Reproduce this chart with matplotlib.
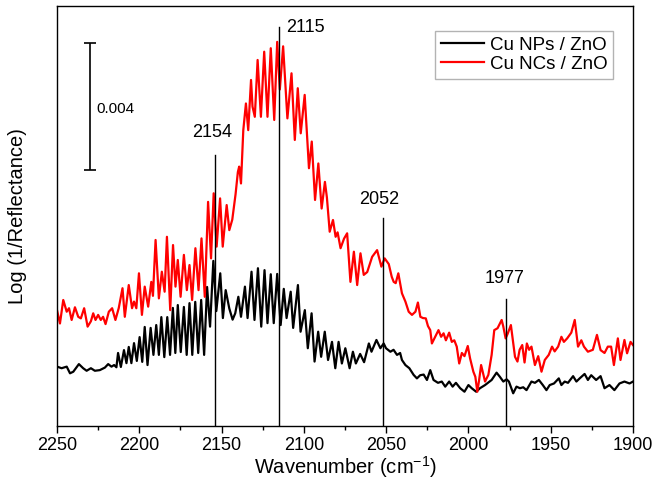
import matplotlib
matplotlib.use("Agg")
import matplotlib.pyplot as plt
from matplotlib.ticker import MultipleLocator

plt.rcParams['font.family'] = ['Liberation Sans', 'DejaVu Sans']
plt.rcParams['mathtext.default'] = 'regular'

# absorbance in units of 1e-3 (scale bar = 0.004), arbitrary offset
wn_np = [2250.0, 2247.2, 2244.1, 2242.1, 2240.1, 2236.7, 2234.1, 2232.0, 2229.4, 2227.0,
         2224.0, 2220.9, 2218.9, 2216.9, 2215.3, 2213.9, 2212.9, 2211.2, 2209.3, 2207.8,
         2206.4, 2204.8, 2203.2, 2201.5, 2199.8, 2198.2, 2196.7, 2195.0, 2193.1, 2191.4,
         2189.7, 2188.1, 2186.6, 2184.8, 2183.0, 2181.3, 2179.6, 2178.1, 2176.6, 2174.8,
         2172.9, 2171.2, 2169.5, 2167.8, 2166.0, 2164.2, 2162.4, 2160.6, 2158.8, 2157.0,
         2155.0, 2153.2, 2150.8, 2149.2, 2147.5, 2145.3, 2143.3, 2141.7, 2139.8, 2138.2,
         2135.8, 2134.2, 2131.8, 2130.0, 2127.9, 2125.9, 2123.9, 2122.1, 2120.1, 2118.3,
         2116.2, 2114.1, 2112.2, 2110.5, 2108.0, 2106.5, 2103.6, 2102.0, 2099.4, 2097.6,
         2095.3, 2093.5, 2091.3, 2089.5, 2087.3, 2085.3, 2082.9, 2080.9, 2078.9, 2076.9,
         2074.8, 2072.2, 2070.2, 2068.4, 2065.8, 2063.4, 2060.5, 2058.9, 2055.9, 2053.5,
         2051.5, 2050.1, 2047.4, 2045.5, 2043.4, 2041.5, 2040.4, 2038.3, 2035.9, 2033.3,
         2031.3, 2029.3, 2027.2, 2025.2, 2023.2, 2021.2, 2018.5, 2016.2, 2014.1, 2011.7,
         2009.6, 2007.6, 2005.0, 2002.4, 2000.0, 1998.0, 1995.3, 1993.0, 1989.9, 1985.9,
         1982.9, 1980.9, 1978.8, 1976.8, 1975.4, 1972.8, 1970.8, 1968.7, 1966.7, 1964.7,
         1961.7, 1959.6, 1957.2, 1954.8, 1952.6, 1950.6, 1948.0, 1945.1, 1943.5, 1941.5,
         1939.5, 1936.4, 1934.4, 1932.4, 1929.4, 1927.4, 1925.4, 1922.4, 1919.7, 1917.3,
         1914.3, 1911.3, 1908.2, 1905.2, 1902.1, 1900.0]
abs_np = [1.87, 1.82, 1.87, 1.66, 1.71, 1.95, 1.82, 1.74, 1.82, 1.74,
          1.76, 1.84, 1.95, 1.87, 1.92, 1.85, 2.30, 1.86, 2.39, 1.98,
          2.49, 1.98, 2.61, 2.05, 2.80, 2.02, 3.12, 1.92, 3.09, 2.24,
          3.18, 2.24, 3.43, 2.17, 3.43, 2.24, 3.72, 2.30, 3.81, 2.33,
          3.75, 2.24, 3.87, 2.24, 3.91, 2.30, 3.97, 2.24, 4.38, 3.13,
          5.20, 3.62, 4.81, 3.40, 4.28, 3.70, 3.35, 3.55, 4.07, 3.44,
          4.39, 3.40, 4.86, 3.34, 4.97, 3.13, 4.91, 3.24, 4.78, 3.24,
          4.79, 3.18, 4.32, 3.40, 4.23, 3.09, 4.44, 2.97, 3.65, 2.45,
          3.55, 2.03, 2.97, 2.18, 2.97, 2.08, 2.65, 1.82, 2.65, 1.97,
          2.45, 1.82, 2.34, 1.97, 2.27, 2.01, 2.60, 2.34, 2.71, 2.45,
          2.60, 2.45, 2.34, 2.40, 2.24, 2.30, 2.08, 1.92, 1.82, 1.61,
          1.50, 1.60, 1.62, 1.45, 1.76, 1.45, 1.36, 1.40, 1.24, 1.40,
          1.24, 1.36, 1.19, 1.08, 1.29, 1.19, 1.08, 1.19, 1.29, 1.45,
          1.68, 1.55, 1.40, 1.47, 1.40, 1.03, 1.24, 1.19, 1.22, 1.13,
          1.40, 1.36, 1.45, 1.29, 1.13, 1.29, 1.34, 1.50, 1.29, 1.40,
          1.36, 1.57, 1.40, 1.50, 1.64, 1.45, 1.60, 1.45, 1.57, 1.19,
          1.29, 1.13, 1.34, 1.40, 1.34, 1.40]

wn_nc = [2250.0, 2248.2, 2246.2, 2244.1, 2242.7, 2241.1, 2239.1, 2237.1, 2235.5, 2233.5,
         2231.4, 2229.4, 2228.0, 2226.6, 2225.0, 2223.4, 2222.0, 2220.5, 2218.5, 2216.5,
         2214.5, 2212.5, 2210.2, 2208.8, 2206.4, 2204.4, 2203.2, 2201.8, 2200.2, 2198.4,
         2196.7, 2194.6, 2192.7, 2191.7, 2190.1, 2188.1, 2186.3, 2184.6, 2183.2, 2181.2,
         2179.5, 2178.0, 2176.6, 2174.9, 2172.9, 2171.1, 2169.5, 2167.9, 2165.9, 2164.0,
         2162.2, 2160.2, 2158.2, 2156.4, 2154.8, 2153.0, 2150.9, 2149.3, 2146.9, 2145.3,
         2143.5, 2141.5, 2140.1, 2139.3, 2138.2, 2136.8, 2135.2, 2133.8, 2132.1, 2131.2,
         2129.8, 2128.1, 2126.1, 2124.1, 2122.1, 2120.1, 2118.0, 2116.2, 2114.6, 2112.6,
         2110.0, 2107.5, 2105.5, 2103.7, 2101.9, 2099.5, 2096.9, 2095.2, 2093.2, 2091.2,
         2089.2, 2087.2, 2086.0, 2084.3, 2082.3, 2080.7, 2079.5, 2077.7, 2075.6, 2073.7,
         2071.7, 2069.6, 2067.6, 2065.6, 2063.6, 2061.5, 2058.5, 2055.5, 2052.9, 2050.9,
         2048.4, 2046.6, 2045.4, 2044.2, 2042.6, 2040.4, 2038.3, 2036.3, 2034.3, 2032.2,
         2030.7, 2029.2, 2027.6, 2025.9, 2024.6, 2023.2, 2022.2, 2020.2, 2018.2, 2016.6,
         2015.1, 2013.7, 2011.7, 2010.1, 2008.6, 2007.1, 2005.6, 2004.0, 2002.4, 2000.4,
         1999.0, 1997.0, 1995.8, 1994.6, 1993.5, 1992.3, 1990.9, 1989.9, 1987.9, 1985.9,
         1984.3, 1982.3, 1979.8, 1978.8, 1977.4, 1976.2, 1974.2, 1971.7, 1970.2, 1968.9,
         1967.3, 1965.9, 1964.5, 1963.1, 1961.7, 1959.6, 1957.6, 1955.6, 1953.6, 1951.2,
         1949.2, 1947.6, 1945.5, 1943.5, 1942.0, 1940.0, 1937.5, 1935.4, 1933.4, 1931.4,
         1929.8, 1927.4, 1924.4, 1921.9, 1919.7, 1917.3, 1915.3, 1913.3, 1911.6, 1909.2,
         1907.6, 1905.2, 1903.6, 1901.5, 1900.0]
abs_nc = [3.65, 3.23, 3.97, 3.60, 3.71, 3.34, 3.74, 3.44, 3.39, 3.71,
          3.13, 3.30, 3.55, 3.34, 3.50, 3.34, 3.44, 3.21, 3.60, 3.71,
          3.34, 3.71, 4.34, 3.44, 4.44, 3.71, 3.92, 3.71, 4.81, 3.50,
          4.39, 3.76, 4.54, 4.10, 5.86, 4.02, 4.86, 4.23, 5.96, 3.65,
          5.70, 4.39, 5.23, 4.07, 5.39, 4.28, 5.07, 3.97, 5.60, 4.28,
          5.91, 4.07, 7.06, 5.28, 7.33, 5.65, 7.17, 5.65, 6.96, 6.17,
          6.50, 7.30, 8.00, 8.17, 7.64, 9.32, 10.16, 9.32, 10.90, 10.06,
          9.74, 11.53, 9.74, 11.79, 9.74, 11.90, 9.64, 12.10, 10.60, 11.96,
          9.69, 11.11, 9.01, 10.64, 9.22, 10.43, 8.12, 8.96, 7.12, 8.27,
          6.85, 7.69, 7.20, 6.12, 6.49, 5.96, 6.10, 5.60, 5.90, 6.07,
          4.54, 5.49, 4.44, 5.44, 4.76, 4.85, 5.33, 5.54, 5.02, 5.28,
          5.10, 4.70, 4.54, 4.50, 4.81, 4.18, 3.92, 3.60, 3.50, 3.60,
          3.89, 3.44, 3.40, 3.39, 3.15, 3.02, 2.60, 2.81, 3.02, 2.81,
          2.92, 2.70, 2.94, 2.65, 2.70, 2.50, 1.97, 2.30, 2.20, 2.52,
          2.13, 1.71, 1.55, 1.08, 1.45, 1.92, 1.61, 1.40, 1.61, 2.24,
          3.02, 3.08, 3.34, 3.13, 2.76, 2.90, 3.18, 2.18, 2.03, 2.40,
          2.55, 2.00, 2.60, 2.40, 2.50, 1.92, 2.20, 1.71, 2.08, 2.24,
          2.50, 2.35, 2.50, 2.81, 2.65, 2.76, 2.94, 3.34, 2.50, 2.70,
          2.50, 2.34, 2.40, 2.87, 2.39, 2.30, 2.50, 2.50, 1.92, 2.76,
          2.08, 2.71, 2.29, 2.65, 2.55]

peak_pos = [2154, 2115, 2052, 1977]
peak_top = [8.54, 12.57, 6.55, 4.00]
peak_labels = ['2154', '2115', '2052', '1977']
label_x = [2156.0, 2099.3, 2054.2, 1978.2]
label_y = [9.23, 12.54, 7.12, 4.66]

fig = plt.figure(figsize=(6.54, 4.90), dpi=100)
ax = fig.add_axes([57/654, 64/490, 576/654, 420/490])

ax.plot(wn_np, abs_np, color='black', lw=1.6, solid_joinstyle='round', label='Cu NPs / ZnO')
ax.plot(wn_nc, abs_nc, color='red', lw=1.6, solid_joinstyle='round', label='Cu NCs / ZnO')

for x, top in zip(peak_pos, peak_top):
    ax.plot([x, x], [0, top], color='black', lw=1.0)
for lab, x, y in zip(peak_labels, label_x, label_y):
    ax.text(x, y, lab, ha='center', va='center', fontsize=13)

# scale bar 0.004
ax.errorbar([2230], [10.05], yerr=[2.0], color='black', lw=1.2, capsize=4, capthick=1.2)
ax.text(2226, 9.98, '0.004', ha='left', va='center', fontsize=11)

ax.set_xlim(2250, 1900)
ax.set_ylim(0, 13.23)
ax.xaxis.set_major_locator(MultipleLocator(50))
ax.xaxis.set_minor_locator(MultipleLocator(25))
ax.set_yticks([])
ax.tick_params(axis='x', which='major', direction='out', length=5, width=1, labelsize=13, pad=3)
ax.tick_params(axis='x', which='minor', direction='out', length=3, width=1)
for s in ax.spines.values():
    s.set_linewidth(1.0)

ax.set_xlabel('Wavenumber (cm$^{-1}$)', fontsize=14.5, va='center')
ax.xaxis.set_label_coords(0.5, -(467 - 426) / 420)
ax.set_ylabel('Log (1/Reflectance)', fontsize=14.5, va='center')
ax.yaxis.set_label_coords(-39 / 576, 0.5)

leg = ax.legend(loc='upper right', bbox_to_anchor=(0.965, 0.94), borderaxespad=0,
                fontsize=13.5, frameon=True, fancybox=False, edgecolor='#a0a0a0',
                handlelength=2.3, handletextpad=0.3, labelspacing=0.1, borderpad=0.3)
leg.get_frame().set_linewidth(1.0)

fig.savefig('out.png', dpi=100)
